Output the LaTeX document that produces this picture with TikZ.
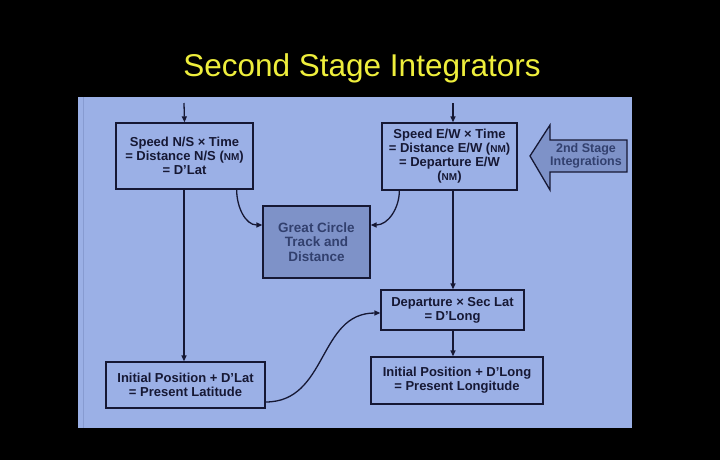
\documentclass[tikz,border=0pt]{standalone}
\usepackage{fontspec}
\setmainfont{Liberation Sans}
\usetikzlibrary{positioning,arrows.meta}
\definecolor{panelblue}{RGB}{155,176,230}
\definecolor{inkblue}{RGB}{22,24,52}
\definecolor{greybox}{RGB}{126,146,200}
\definecolor{greyink}{RGB}{50,64,110}
\definecolor{titleyellow}{RGB}{238,238,60}

\begin{document}
\begin{tikzpicture}[x=1pt,y=-1pt,
 stagebox/.style={draw=inkblue, line width=1.3pt, align=center, inner sep=1pt,
            text=inkblue, font=\bfseries\fontsize{13}{14}\selectfont},
 flow/.style={draw=inkblue, line width=1.3pt, -{Triangle[length=6pt,width=5pt]}}]
            
            \useasboundingbox[fill=black] (0,0) rectangle (720,460);
            \node[text=titleyellow, font=\fontsize{31.5}{34}\selectfont] (title) at (362,68) {Second Stage Integrators};
            \fill[panelblue] (78,97) rectangle (632,428);
            \draw[greybox!70!panelblue, line width=1pt] (83,97) -- (83,428);
            % upper row
            \node[stagebox, minimum width=137, minimum height=66] (ns) at (184.5,156)
                {Speed N/S × Time\\= Distance N/S ({\fontsize{10}{11}\selectfont NM})\\= D'Lat};
            \node[stagebox, minimum width=135, minimum height=67] (ew) at (449.5,156.5)
                {Speed E/W × Time\\= Distance E/W ({\fontsize{10}{11}\selectfont NM})\\= Departure E/W\\({\fontsize{10}{11}\selectfont NM})};
            \node[stagebox, fill=greybox, text=greyink, minimum width=107, minimum height=72,
                font=\bfseries\fontsize{13.5}{14.5}\selectfont] (gc) at (316.5,242)
                {Great Circle\\Track and\\Distance};
            % lower row
            \node[stagebox, minimum width=143, minimum height=40] (dep) at (452.5,310)
                {Departure × Sec Lat\\= D'Long};
            \node[stagebox, minimum width=159, minimum height=46] (lat) at (185.5,385)
                {Initial Position + D'Lat\\= Present Latitude};
            \node[stagebox, minimum width=172, minimum height=47] (long) at (457,380.5)
                {Initial Position + D'Long\\= Present Longitude};
            % 2nd stage arrow
            \draw[inkblue, fill=greybox, line width=1.3pt] (530,156) -- (550,125) -- (550,140) -- (627,140)
                -- (627,172) -- (550,172) -- (550,190) -- cycle;
            \node[text=greyink, align=center, font=\bfseries\fontsize{12.5}{13.5}\selectfont] (stage) at (586,156) {2nd Stage\\Integrations};
            \coordinate (nsin) at (184,103);
            \coordinate (ewin) at (453,103);
			\draw[flow] (nsin) -- (ns.north);
			\draw[flow] (ewin) -- (ew.north -| ewin);
			\draw[flow] ([xshift=-17pt]ns.south east) to[out=-90,in=180] ([yshift=17pt]gc.west);
			\draw[flow] ([xshift=18pt]ew.south west) to[out=-90,in=0] ([yshift=17pt]gc.east);
			\draw[flow] (ns.south -| nsin) -- (lat.north -| nsin);
			\draw[flow] (ew.south -| ewin) -- (dep.north -| ewin);
			\draw[flow] ([yshift=-17pt]lat.east) to[out=0,in=180,looseness=1.1] ([yshift=-3pt]dep.west);
			\draw[flow] (dep.south -| ewin) -- (long.north -| ewin);
\end{tikzpicture}
\end{document}
